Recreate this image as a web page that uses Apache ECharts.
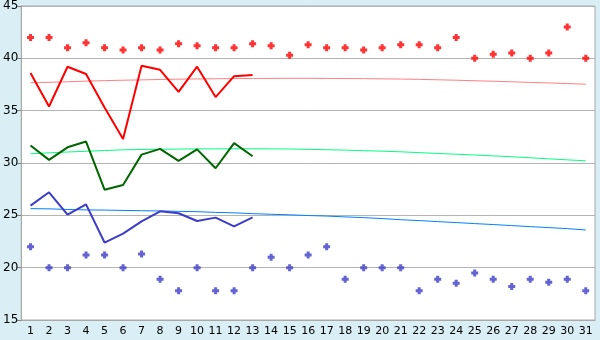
<!DOCTYPE html>
<html>
<head>
<meta charset="utf-8">
<script src="https://cdn.jsdelivr.net/npm/echarts@6/dist/echarts.min.js"></script>
<style>
html,body{margin:0;padding:0;background:#d9eef5;}
#c{width:600px;height:340px;}
</style>
</head>
<body>
<div id="c"></div>
<script>
var days = [];
for (var i = 1; i <= 31; i++) days.push(String(i));

var maxRecord = [42,42,41,41.5,41,40.8,41,40.8,41.4,41.2,41,41,41.4,41.2,40.3,41.3,41,41,40.8,41,41.3,41.3,41,42,40,40.4,40.5,40,40.5,43,40];
var maxActual = [38.6,35.4,39.2,38.5,35.3,32.3,39.3,38.9,36.8,39.2,36.3,38.3,38.4];
var maxTrend = [37.67,37.71,37.76,37.82,37.87,37.91,37.94,37.98,38.01,38.03,38.05,38.07,38.08,38.08,38.09,38.09,38.08,38.07,38.06,38.04,38.02,37.99,37.95,37.91,37.86,37.81,37.76,37.70,37.65,37.59,37.53];

var avgActual = [31.67,30.3,31.5,32.05,27.45,27.9,30.8,31.35,30.2,31.3,29.5,31.9,30.65];
var avgTrend = [30.88,30.97,31.05,31.12,31.19,31.26,31.29,31.31,31.33,31.35,31.35,31.36,31.36,31.35,31.34,31.30,31.27,31.23,31.18,31.13,31.07,30.99,30.91,30.84,30.76,30.68,30.60,30.50,30.40,30.30,30.21];

var minActual = [25.93,27.2,25.07,26.05,22.4,23.25,24.43,25.38,25.2,24.46,24.78,23.95,24.8];
var minTrend = [25.64,25.62,25.56,25.52,25.50,25.47,25.44,25.42,25.38,25.35,25.28,25.24,25.16,25.10,25.05,24.98,24.93,24.85,24.78,24.69,24.58,24.50,24.40,24.31,24.21,24.12,24.02,23.92,23.83,23.73,23.60];
var minRecord = [22,20,20,21.2,21.2,20,21.3,18.9,17.8,20,17.8,17.8,20,21,20,21.2,22,18.9,20,20,20,17.8,18.9,18.5,19.5,18.9,18.2,18.9,18.6,18.9,17.8];

var yTicks = {min: 15, max: 45, interval: 5};

var cross = 'path://M2,0H5V2H7V5H5V7H2V5H0V2H2Z';

var chart = echarts.init(document.getElementById('c'), null, {renderer: 'canvas'});
chart.setOption({
  animation: false,
  backgroundColor: '#d9eef5',
  grid: {left: 20, right: 5, top: 5, bottom: 20, show: true, backgroundColor: '#ffffff', borderColor: '#a8a8a8', borderWidth: 1},
  xAxis: {
    type: 'category', data: days, boundaryGap: true,
    axisLine: {lineStyle: {color: '#a8a8a8'}},
    axisTick: {alignWithLabel: true, length: 5, lineStyle: {color: '#808080'}},
    axisLabel: {color: '#000', fontFamily: 'DejaVu Sans', fontSize: 11, margin: 6, interval: 0}
  },
  yAxis: {
    type: 'value', min: yTicks.min, max: yTicks.max, interval: yTicks.interval,
    axisLine: {show: true, lineStyle: {color: '#a8a8a8'}},
    axisTick: {show: true, length: 4, lineStyle: {color: '#808080'}},
    axisLabel: {color: '#000', fontFamily: 'DejaVu Sans', fontSize: 12, margin: 3},
    splitLine: {lineStyle: {color: '#b4b4b4'}}
  },
  series: [
    {type: 'line', data: maxTrend, symbol: 'none', lineStyle: {color: '#ff8080', width: 1}, z: 2},
    {type: 'line', data: avgTrend, symbol: 'none', lineStyle: {color: '#00ff80', width: 1}, z: 2},
    {type: 'line', data: minTrend, symbol: 'none', lineStyle: {color: '#0080ff', width: 1}, z: 2},
    {type: 'line', data: maxActual, symbol: 'none', lineStyle: {color: '#ff0000', width: 2}, z: 3},
    {type: 'line', data: avgActual, symbol: 'none', lineStyle: {color: '#006600', width: 2}, z: 3},
    {type: 'line', data: minActual, symbol: 'none', lineStyle: {color: '#3c3cc8', width: 2}, z: 3},
    {type: 'scatter', data: maxRecord, symbol: cross, symbolSize: 7, itemStyle: {color: '#ff0000'}, z: 4},
    {type: 'scatter', data: minRecord, symbol: cross, symbolSize: 7, itemStyle: {color: '#3c3cc8'}, z: 4}
  ]
});
</script>
</body>
</html>
